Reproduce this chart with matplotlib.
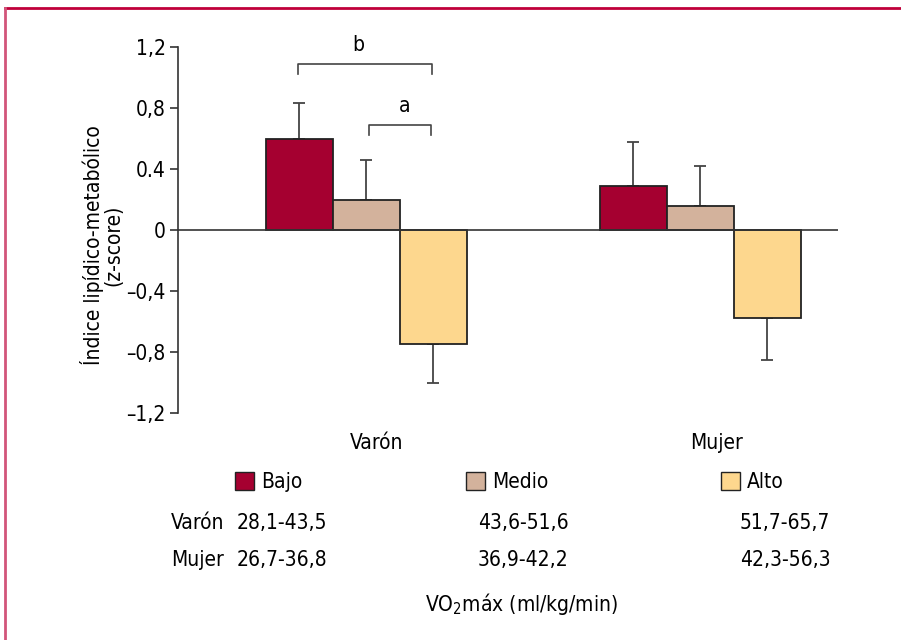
import matplotlib
matplotlib.use('Agg')
import matplotlib.pyplot as plt
from matplotlib.lines import Line2D
from matplotlib.patches import Rectangle
import numpy as np

plt.rcParams['font.family'] = ['Liberation Sans Narrow', 'DejaVu Sans']
plt.rcParams['font.stretch'] = 'condensed'

# datos
grupos = ['Varón', 'Mujer']
niveles = ['Bajo', 'Medio', 'Alto']
colores = ['#a50030', '#d3b29c', '#fdd78e']
valores = {'Bajo': [0.60, 0.29], 'Medio': [0.20, 0.16], 'Alto': [-0.75, -0.58]}
errores = {'Bajo': [0.23, 0.29], 'Medio': [0.26, 0.26], 'Alto': [0.25, 0.27]}
rangos_varon = ['28,1-43,5', '43,6-51,6', '51,7-65,7']
rangos_mujer = ['26,7-36,8', '36,9-42,2', '42,3-56,3']
yticks = [1.2, 0.8, 0.4, 0, -0.4, -0.8, -1.2]
ytick_labels = ['1,2', '0,8', '0.4', '0', '–0,4', '–0,8', '–1,2']

fs = 15

fig = plt.figure(figsize=(9.01, 6.40), dpi=100)
ax = fig.add_axes([178/901, 1 - 413/640, 660/901, 366/640])

centros = np.array([0.0, 4.985])
for i, n in enumerate(niveles):
    x = centros + i
    v = np.array(valores[n])
    e = np.array(errores[n])
    ax.bar(x, v, width=1.0, color=colores[i], edgecolor='#222222', linewidth=1.3, zorder=2)
    # error de un solo lado
    yerr = np.where(v >= 0, [np.zeros_like(e), e], [e, np.zeros_like(e)])
    ax.errorbar(x, v, yerr=yerr, fmt='none', ecolor='#444444', elinewidth=1.3,
                capsize=4.5, capthick=1.3, zorder=1)

ax.axhline(0, color='#333333', linewidth=1.2, zorder=3)
ax.set_xlim(-1.81, 8.04)
ax.set_ylim(-1.2, 1.2)
ax.set_yticks(yticks)
ax.set_yticklabels(ytick_labels, fontsize=fs)
ax.set_xticks([])
for s in ['top', 'right', 'bottom']:
    ax.spines[s].set_visible(False)
ax.spines['left'].set_linewidth(1.2)
ax.spines['left'].set_color('#333333')
ax.tick_params(axis='y', direction='out', length=6, width=1.2, color='#333333', pad=3)

# corchetes de significación
def corchete(x0, x1, y, txt, dx=0):
    ax.plot([x0, x0, x1, x1], [y - 0.07, y, y, y - 0.07], color='#444444', lw=1.2, clip_on=False)
    ax.text((x0 + x1) / 2 + dx, y + 0.06, txt, ha='center', va='bottom', fontsize=fs)

corchete(-0.02, 1.98, 1.09, 'b', -0.1)
corchete(1.04, 1.97, 0.69, 'a', 0.07)

ax.text(1.16, -1.33, grupos[0], ha='center', va='top', fontsize=fs)
ax.text(6.23, -1.33, grupos[1], ha='center', va='top', fontsize=fs)

fig.text(102/901, 1 - 245/640, 'Índice lipídico-metabólico\n(z-score)', rotation=90,
         ha='center', va='center', fontsize=fs, linespacing=0.95)

# leyenda
leg_x = [235, 466, 721]
for i, n in enumerate(niveles):
    fig.patches.append(Rectangle((leg_x[i]/901, 1 - 490/640), 19/901, 18/640,
                                 transform=fig.transFigure, facecolor=colores[i],
                                 edgecolor='#222222', linewidth=1.0))
    fig.text((leg_x[i] + 26)/901, 1 - 482/640, n, ha='left', va='center', fontsize=fs)

# tabla de rangos
fig.text(224/901, 1 - 523/640, 'Varón', ha='right', va='center', fontsize=fs)
fig.text(224/901, 1 - 560/640, 'Mujer', ha='right', va='center', fontsize=fs)
col_x = [237, 478, 740]
for i in range(3):
    fig.text(col_x[i]/901, 1 - 523/640, rangos_varon[i], ha='left', va='center', fontsize=fs)
    fig.text(col_x[i]/901, 1 - 560/640, rangos_mujer[i], ha='left', va='center', fontsize=fs)

fig.text(522/901, 1 - 604/640, r'VO$_2$máx (ml/kg/min)', ha='center', va='center', fontsize=fs)

# borde rojo superior e izquierdo
fig.add_artist(Line2D([5/901, 1], [1 - 8/640, 1 - 8/640], transform=fig.transFigure,
                      color='#c0003a', lw=2))
fig.add_artist(Line2D([5/901, 5/901], [0, 1 - 8/640], transform=fig.transFigure,
                      color='#d2557a', lw=2))

fig.savefig('out.png', dpi=100)
